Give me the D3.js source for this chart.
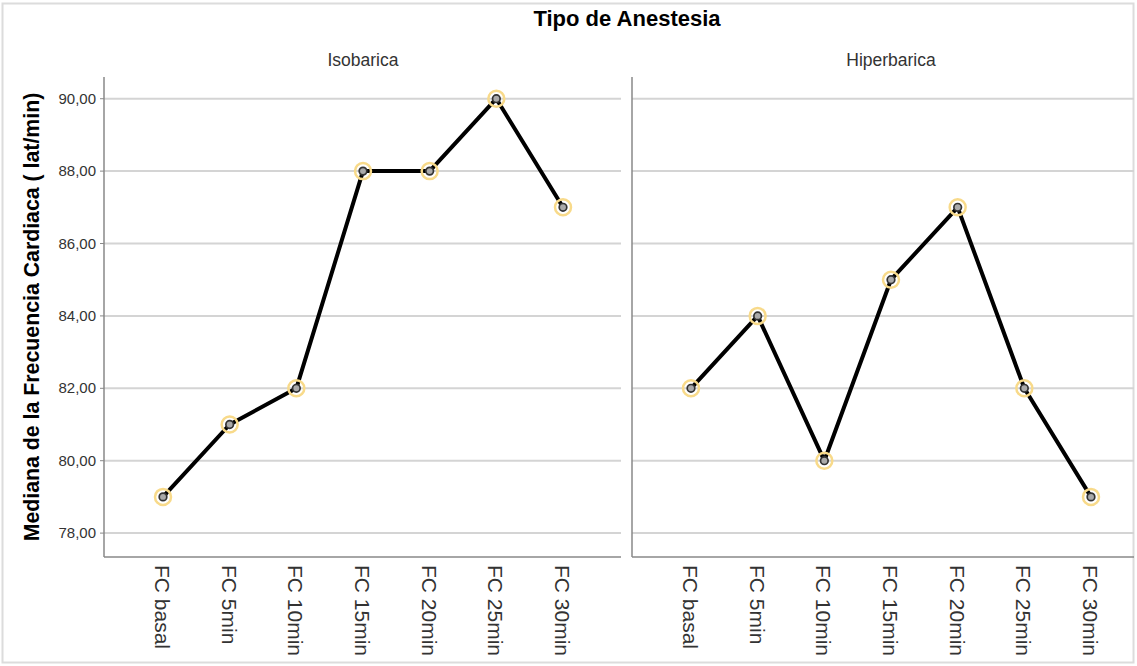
<!DOCTYPE html>
<html>
<head>
<meta charset="utf-8">
<script src="https://cdn.jsdelivr.net/npm/d3@7"></script>
<style>
  body { margin: 0; background: #fff; }
  svg { display: block; font-family: "Liberation Sans", Arial, sans-serif; }
</style>
</head>
<body>
<svg id="chart" width="1137" height="666"></svg>
<script>
const categories = ["FC basal", "FC 5min", "FC 10min", "FC 15min", "FC 20min", "FC 25min", "FC 30min"];
const panels = ["Isobarica", "Hiperbarica"];
const isobaricaValues = [79, 81, 82, 88, 88, 90, 87];
const hiperbaricaValues = [82, 84, 80, 85, 87, 82, 79];
const yTicks = [78, 80, 82, 84, 86, 88, 90];
const seriesValues = [isobaricaValues, hiperbaricaValues];

(function () {
const svg = d3.select("#chart");
const W = 1137, H = 666;

svg.append("rect").attr("x", 2.5).attr("y", 3.5).attr("width", 1131).attr("height", 659)
  .attr("fill", "#fff").attr("stroke", "#dcdcdc").attr("stroke-width", 2);

const plotTop = 77, plotBottom = 557;
const y = d3.scaleLinear().domain([77.34, 90.6]).range([plotBottom, plotTop]);

const panelX = [104, 632];
const panelW = 518;

const fmt = v => d3.format(".2f")(v).replace(".", ",");

svg.append("defs").append("clipPath").attr("id", "frameclip")
  .append("rect").attr("x", 0).attr("y", 0).attr("width", 1134).attr("height", H);

panels.forEach((p, i) => {
  const x0 = panelX[i];
  const g = svg.append("g").attr("clip-path", "url(#frameclip)");
  const x = d3.scalePoint().domain(categories).range([x0, x0 + panelW]).padding(0.885);

  g.selectAll("line.grid").data(yTicks).join("line")
    .attr("x1", x0).attr("x2", x0 + panelW - 1)
    .attr("y1", d => y(d)).attr("y2", d => y(d))
    .attr("stroke", "#d4d4d4").attr("stroke-width", 2);

  g.append("line").attr("x1", x0).attr("x2", x0).attr("y1", plotTop).attr("y2", plotBottom)
    .attr("stroke", "#888").attr("stroke-width", 1.5);
  g.append("line").attr("x1", x0).attr("x2", x0 + panelW - 1).attr("y1", plotBottom).attr("y2", plotBottom)
    .attr("stroke", "#888").attr("stroke-width", 1.5);

  g.selectAll("text.xl").data(categories).join("text")
    .attr("transform", d => `translate(${x(d) - 8},${565}) rotate(90)`)
    .attr("text-anchor", "start")
    .attr("font-size", 21)
    .attr("fill", "#333")
    .text(d => d);

  svg.append("text").attr("x", x(categories[3])).attr("y", 66)
    .attr("text-anchor", "middle").attr("font-size", 17.5).attr("fill", "#333").text(p);

  const data = categories.map((c, k) => ({ c, v: seriesValues[i][k] }));
  const line = d3.line().x(d => x(d.c)).y(d => y(d.v));
  g.append("path").datum(data).attr("d", line)
    .attr("fill", "none").attr("stroke", "#000").attr("stroke-width", 4)
    .attr("stroke-linejoin", "round");

  g.selectAll("circle.ring").data(data).join("circle")
    .attr("cx", d => x(d.c)).attr("cy", d => y(d.v)).attr("r", 8)
    .attr("fill", "none").attr("stroke", "#f8da8a").attr("stroke-width", 2.5);
  g.selectAll("circle.dot").data(data).join("circle")
    .attr("cx", d => x(d.c)).attr("cy", d => y(d.v)).attr("r", 3.8)
    .attr("fill", "#aaa").attr("stroke", "#333").attr("stroke-width", 1.7);
});

svg.selectAll("text.yl").data(yTicks).join("text")
  .attr("x", 96).attr("y", d => y(d) + 5)
  .attr("text-anchor", "end").attr("font-size", 15).attr("fill", "#333")
  .text(d => fmt(d));
svg.selectAll("line.yt").data(yTicks).join("line")
  .attr("x1", 100).attr("x2", 104).attr("y1", d => y(d)).attr("y2", d => y(d))
  .attr("stroke", "#888").attr("stroke-width", 1);

svg.append("text").attr("x", 627).attr("y", 26).attr("text-anchor", "middle")
  .attr("font-size", 22).attr("font-weight", "bold").attr("fill", "#000").text("Tipo de Anestesia");
svg.append("text").attr("transform", `translate(39,317) rotate(-90)`)
  .attr("text-anchor", "middle").attr("font-size", 21.3).attr("font-weight", "bold").attr("fill", "#000")
  .text("Mediana de la Frecuencia Cardiaca ( lat/min)");
})();
</script>
</body>
</html>
